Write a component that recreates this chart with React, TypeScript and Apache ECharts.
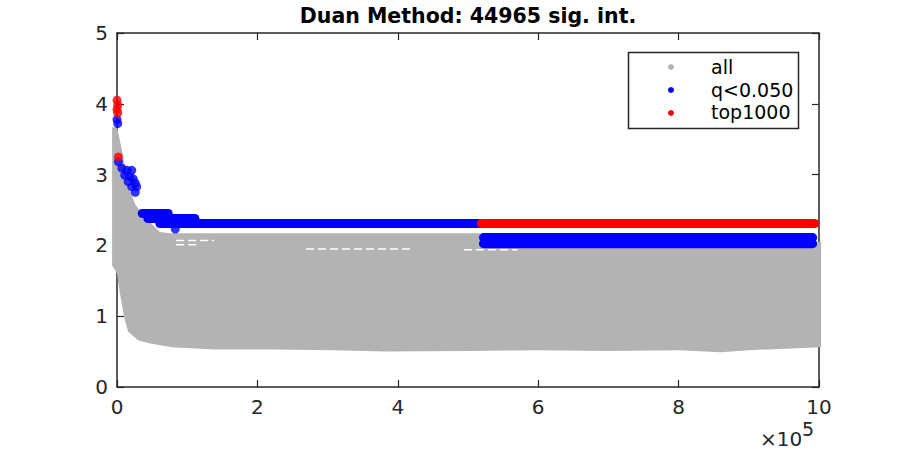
import React, { useEffect, useRef } from "react";
import * as echarts from "echarts";

const FONT = "DejaVu Sans";
const AXIS = "#262626";
const GRAY = "#b3b3b3";
const BLUE = "#0000ff";
const RED = "#ff0000";

const titleText = "Duan Method: 44965 sig. int.";
const legendLabels = ["all", "q<0.050", "top1000"];
const xMin = 0;
const xMax = 10;
const xStep = 2;
const yMin = 0;
const yMax = 5;
const yStep = 1;

// envelope of the dense "all" cloud (x in units of 1e5)
const grayUpper: number[][] = [
  [-0.07, 3.67], [0.0, 3.67], [0.02, 3.58], [0.09, 3.25], [0.12, 2.97], [0.185, 2.78],
  [0.256, 2.59], [0.35, 2.45], [0.49, 2.31], [0.61, 2.19], [0.75, 2.17], [2.0, 2.17],
  [4.0, 2.17], [5.17, 2.17], [5.2, 2.05], [10.03, 2.05],
];
const grayLower: number[][] = [
  [-0.07, 1.72], [0.0, 1.6], [0.04, 1.33], [0.11, 0.95], [0.16, 0.78], [0.3, 0.66],
  [0.44, 0.62], [0.78, 0.56], [1.4, 0.53], [2.2, 0.53], [3.1, 0.52], [3.8, 0.5],
  [5.0, 0.51], [6.0, 0.52], [7.0, 0.51], [8.0, 0.52], [8.6, 0.49], [9.0, 0.52], [10.03, 0.56],
];
// small empty streaks inside the cloud
const grayGaps: number[][][] = [
  [[0.85, 2.07], [1.37, 2.07]],
  [[0.85, 2.01], [1.14, 2.01]],
  [[2.7, 1.95], [4.2, 1.95]],
  [[4.95, 1.94], [5.7, 1.94]],
];

const blueRows: number[][][] = [
  [[0.36, 2.45], [0.73, 2.45]],
  [[0.44, 2.38], [1.11, 2.38]],
  [[0.61, 2.31], [5.2, 2.31]],
  [[5.22, 2.11], [9.91, 2.11]],
  [[5.22, 2.025], [9.91, 2.025]],
];
const bluePoints: number[][] = [
  [0, 3.78], [0.01, 3.72], [0.02, 3.18], [0.07, 3.09], [0.14, 3.06], [0.21, 3.06],
  [0.11, 2.99], [0.18, 2.97], [0.23, 2.94], [0.16, 2.9], [0.26, 2.88], [0.21, 2.83],
  [0.28, 2.83], [0.26, 2.75], [0.83, 2.23],
];
const redRows: number[][][] = [[[5.19, 2.31], [9.94, 2.31]]];
const redPoints: number[][] = [
  [0, 4.05], [0.01, 3.98], [0, 3.92], [0.01, 3.87], [0.02, 3.25],
];

export default function App() {
  const ref = useRef<HTMLDivElement>(null);
  useEffect(() => {
    if (!ref.current) return;
    const chart = echarts.init(ref.current, null, { renderer: "svg" });

    const axisCommon = {
      type: "value",
      axisLine: { show: true, onZero: false, lineStyle: { color: AXIS, width: 1.5 } },
      axisTick: { show: true, inside: true, length: 7, lineStyle: { color: AXIS, width: 1.2 } },
      splitLine: { show: false },
    };

    const rowSeries = (rows: number[][][], color: string, width: number, type: any = "solid") =>
      rows.map((seg) => ({
        type: "line",
        data: seg,
        symbol: "none",
        silent: true,
        lineStyle: { color, width, cap: "round", type },
      }));

    const option: any = {
      animation: false,
      grid: { left: 117, right: 81, top: 33, bottom: 63 },
      xAxis: [
        {
          ...axisCommon,
          position: "bottom",
          min: xMin,
          max: xMax,
          interval: xStep,
          axisLabel: { show: true, margin: 10, color: AXIS, fontFamily: FONT, fontSize: 20 },
        },
        {
          ...axisCommon,
          position: "top",
          min: xMin,
          max: xMax,
          interval: xStep,
          axisLabel: { show: false },
        },
      ],
      yAxis: [
        {
          ...axisCommon,
          position: "left",
          min: yMin,
          max: yMax,
          interval: yStep,
          axisLabel: { show: true, margin: 9, color: AXIS, fontFamily: FONT, fontSize: 20 },
        },
        {
          ...axisCommon,
          position: "right",
          min: yMin,
          max: yMax,
          interval: yStep,
          axisLabel: { show: false },
        },
      ],
      series: [
        {
          type: "custom",
          data: [[0, 0]],
          silent: true,
          renderItem: (params: any, api: any) => {
            const pts = [
              ...grayUpper.map((p) => api.coord(p)),
              ...grayLower.slice().reverse().map((p) => api.coord(p)),
            ];
            return { type: "polygon", shape: { points: pts }, style: { fill: GRAY } };
          },
        },
        ...rowSeries(grayGaps, "#ffffff", 1.5, [7, 5]),
        ...rowSeries(blueRows, BLUE, 9),
        {
          type: "scatter",
          data: bluePoints,
          symbol: "circle",
          symbolSize: 9,
          silent: true,
          itemStyle: { color: BLUE },
        },
        ...rowSeries(redRows, RED, 9),
        {
          type: "scatter",
          data: redPoints,
          symbol: "circle",
          symbolSize: 9,
          silent: true,
          itemStyle: { color: RED },
        },
      ],
      graphic: [
        {
          type: "text",
          z: 100,
          style: {
            text: titleText,
            x: 468,
            y: 16,
            align: "center",
            verticalAlign: "middle",
            fill: "#000",
            font: `bold 20.5px "${FONT}"`,
          },
        },
        {
          type: "text",
          z: 100,
          style: {
            text: "×10",
            x: 760,
            y: 439,
            align: "left",
            verticalAlign: "middle",
            fill: AXIS,
            font: `20px "${FONT}"`,
          },
        },
        {
          type: "text",
          z: 100,
          style: {
            text: "5",
            x: 802,
            y: 429,
            align: "left",
            verticalAlign: "middle",
            fill: AXIS,
            font: `19px "${FONT}"`,
          },
        },
        {
          type: "rect",
          z: 100,
          shape: { x: 628.5, y: 52.5, width: 170, height: 76 },
          style: { fill: "#ffffff", stroke: AXIS, lineWidth: 1.5 },
        },
        ...[GRAY, BLUE, RED].map((c, i) => ({
          type: "circle",
          z: 101,
          shape: { cx: 671, cy: 67 + i * 23, r: 3 },
          style: { fill: c },
        })),
        ...legendLabels.map((t, i) => ({
          type: "text",
          z: 101,
          style: {
            text: t,
            x: 711,
            y: 67 + i * 22.5,
            align: "left",
            verticalAlign: "middle",
            fill: "#000",
            font: `19px "${FONT}"`,
          },
        })),
      ],
    };
    chart.setOption(option);
    return () => chart.dispose();
  }, []);

  return (
    <div
      ref={ref}
      style={{ position: "fixed", left: 0, top: 0, width: 900, height: 450, background: "#fff" }}
    />
  );
}
